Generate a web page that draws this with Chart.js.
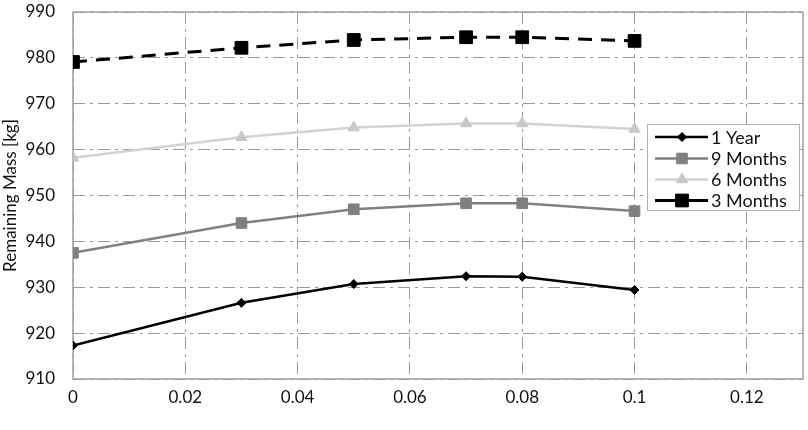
<!DOCTYPE html>
<html>
<head>
<meta charset="utf-8">
<script src="https://cdn.jsdelivr.net/npm/chart.js@4/dist/chart.umd.min.js"></script>
<style>
  html, body { margin: 0; padding: 0; background: #fff; overflow: hidden; }
  #wrap { width: 808px; height: 450px; }
</style>
</head>
<body>
<div id="wrap"><canvas id="c" width="808" height="450"></canvas></div>
<script>
// ---- data ----
const xValues = [0, 0.03, 0.05, 0.07, 0.08, 0.1];
const oneYear = [917.3, 926.6, 930.7, 932.4, 932.3, 929.4];
const nineMonths = [937.5, 944.0, 947.0, 948.3, 948.3, 946.6];
const sixMonths = [958.2, 962.7, 964.8, 965.7, 965.7, 964.5];
const threeMonths = [979.1, 982.2, 983.9, 984.5, 984.5, 983.7];
const seriesLabels = ['1 Year', '9 Months', '6 Months', '3 Months'];
const xTicks = [0, 0.02, 0.04, 0.06, 0.08, 0.1, 0.12];
const yTicks = [910, 920, 930, 940, 950, 960, 970, 980, 990];
const xTitle = 'Characteristic acceleration [mm/s\u00B2]';
const yTitle = 'Remaining Mass [kg]';

const pts = arr => xValues.map((x, i) => ({ x: x, y: arr[i] }));

const FONT = 'Lato, "Open Sans", sans-serif';
const GRID = '#9a9a9a';

const frame = {
  id: 'frame',
  beforeDatasetsDraw(chart) {
    const { ctx, chartArea: a } = chart;
    ctx.save();
    ctx.strokeStyle = '#a0a0a0';
    ctx.lineWidth = 1.5;
    ctx.setLineDash([]);
    ctx.strokeRect(a.left, a.top, a.right - a.left, a.bottom - a.top);
    ctx.restore();
  }
};

const boxLegend = {
  id: 'boxLegend',
  afterDraw(chart) {
    const { ctx } = chart;
    const x0 = 647, y0 = 124, w = 152, h = 86;
    ctx.save();
    ctx.fillStyle = '#fff';
    ctx.fillRect(x0, y0, w, h);
    ctx.strokeStyle = '#b0b0b0';
    ctx.lineWidth = 1;
    ctx.strokeRect(x0 + 0.5, y0 + 0.5, w, h);
    const rows = [137, 158.5, 179.5, 200.5];
    chart.data.datasets.forEach((ds, i) => {
      const y = rows[i];
      ctx.strokeStyle = ds.borderColor;
      ctx.lineWidth = ds.borderWidth;
      ctx.setLineDash([]);
      ctx.beginPath();
      ctx.moveTo(655, y);
      ctx.lineTo(708, y);
      ctx.stroke();
      ctx.fillStyle = ds.pointBackgroundColor;
      ctx.strokeStyle = ds.pointBackgroundColor;
      ctx.lineWidth = 1;
      Chart.helpers.drawPoint(ctx, {
        pointStyle: ds.pointStyle,
        radius: ds.pointRadius,
        borderWidth: 1,
        rotation: 0
      }, 682, y);
      ctx.fillStyle = '#111';
      ctx.font = '18px ' + FONT;
      ctx.textBaseline = 'middle';
      ctx.textAlign = 'left';
      ctx.fillText(ds.label, 711, y + 1);
    });
    ctx.restore();
  }
};

new Chart(document.getElementById('c'), {
  type: 'line',
  data: {
    datasets: [
      { label: seriesLabels[0], data: pts(oneYear), borderColor: '#000', borderWidth: 2.5,
        pointStyle: 'rectRot', pointRadius: 4.5, pointBackgroundColor: '#000', pointBorderColor: '#000', pointBorderWidth: 1 },
      { label: seriesLabels[1], data: pts(nineMonths), borderColor: '#808080', borderWidth: 2.5,
        pointStyle: 'rect', pointRadius: 7.5, pointBackgroundColor: '#808080', pointBorderColor: '#808080', pointBorderWidth: 1 },
      { label: seriesLabels[2], data: pts(sixMonths), borderColor: '#d3d3d3', borderWidth: 2.5,
        pointStyle: 'triangle', pointRadius: 6.5, pointBackgroundColor: '#c8c8c8', pointBorderColor: '#c8c8c8', pointBorderWidth: 1 },
      { label: seriesLabels[3], data: pts(threeMonths), borderColor: '#000', borderWidth: 3, borderDash: [14, 9],
        pointStyle: 'rect', pointRadius: 9, pointBackgroundColor: '#000', pointBorderColor: '#000', pointBorderWidth: 1 }
    ]
  },
  options: {
    responsive: false,
    animation: false,
    layout: { autoPadding: false, padding: { left: 0, right: 5, top: 12, bottom: 0 } },
    plugins: { legend: { display: false }, tooltip: { enabled: false } },
    elements: { line: { tension: 0 } },
    scales: {
      x: {
        type: 'linear', min: 0, max: 0.13,
        afterBuildTicks: s => { s.ticks = xTicks.map(v => ({ value: v })); },
        afterFit: s => { s.height = 71; s.paddingLeft = 0; s.paddingRight = 0; },
        ticks: { color: '#111', font: { family: FONT, size: 17 }, padding: 8, maxRotation: 0,
          callback: v => String(Math.round(v * 100) / 100) },
        grid: { color: GRID, lineWidth: 1, drawTicks: false },
        border: { display: false, dash: [12, 5, 3, 5] },
        title: { display: true, text: xTitle, color: '#111', font: { family: FONT, size: 17 }, padding: { top: 0, bottom: 0 } }
      },
      y: {
        type: 'linear', min: 910, max: 990,
        afterBuildTicks: s => { s.ticks = yTicks.map(v => ({ value: v })); },
        afterFit: s => { s.width = 73; s.paddingTop = 0; s.paddingBottom = 0; },
        ticks: { color: '#111', font: { family: FONT, size: 17 }, padding: 18 },
        grid: { color: GRID, lineWidth: 1, drawTicks: false },
        border: { display: false, dash: [12, 5, 3, 5] },
        title: { display: true, text: yTitle, color: '#111', font: { family: FONT, size: 17 }, padding: { top: 0, bottom: 0 } }
      }
    }
  },
  plugins: [frame, boxLegend]
});
</script>
</body>
</html>
